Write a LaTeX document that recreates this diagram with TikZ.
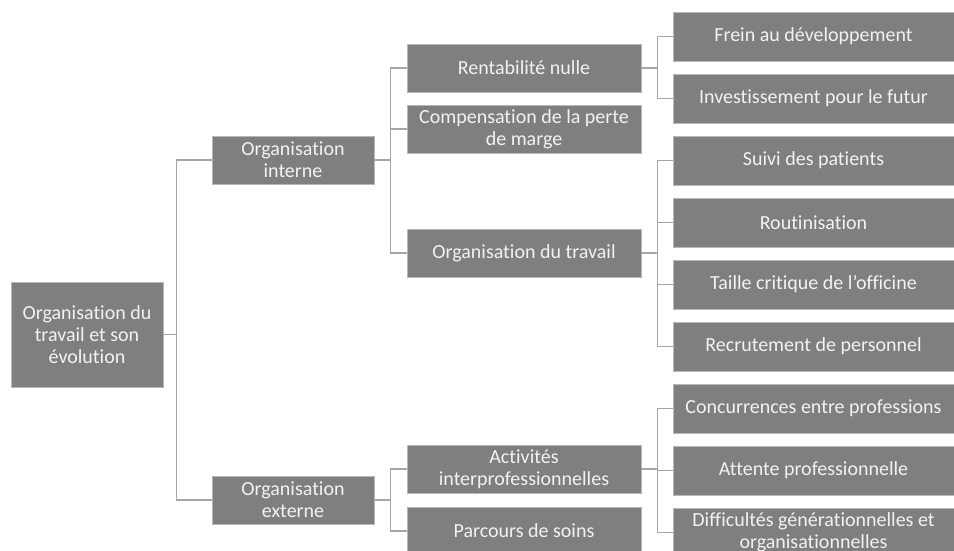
\documentclass[tikz,border=0pt]{standalone}
\usepackage{fontspec}
\setmainfont[Ligatures={NoCommon}]{Carlito}
\definecolor{boxfill}{HTML}{7F7F7F}
\definecolor{boxtext}{HTML}{F2F2F2}
\definecolor{boxedge}{HTML}{B8B8B8}
\definecolor{linkcol}{HTML}{A6A6A6}
\begin{document}
\begin{tikzpicture}[x=1pt,y=-1pt,
  box/.style={rectangle, fill=boxfill, draw=boxedge, line width=0.6pt, text=boxtext,
    inner sep=0pt, align=center, font=\fontsize{20}{22}\selectfont},
  rootbox/.style={box, minimum width=152pt, minimum height=105pt},
  lvlone/.style={box, minimum width=162pt, minimum height=48pt},
  lvltwo/.style={box, minimum width=234pt, minimum height=48pt},
  lvlthree/.style={box, minimum width=281pt, minimum height=49pt},
  link/.style={draw=linkcol, line width=1.1pt}]
\useasboundingbox (0,0) rectangle (954,550);
\begin{scope}
\clip (0,0) rectangle (954,550);
\node[rootbox] (root) at (87,334.5) {Organisation du\\travail et son\\évolution};
\node[lvlone] (oi) at (293,160) {Organisation\\interne};
\node[lvlone] (oe) at (293,500) {Organisation\\externe};
\node[lvltwo] (rn) at (524,68) {Rentabilité nulle};
\node[lvltwo] (comp) at (524,129) {Compensation de la perte\\de marge};
\node[lvltwo] (odt) at (524,253) {Organisation du travail};
\node[lvltwo] (act) at (524,469) {Activités\\interprofessionnelles};
\node[lvltwo] (parc) at (524,531) {Parcours de soins};
\node[lvlthree] (frein) at (813.5,36.5) {Frein au développement};
\node[lvlthree] (inv) at (813.5,98.5) {Investissement pour le futur};
\node[lvlthree] (suivi) at (813.5,160.5) {Suivi des patients};
\node[lvlthree] (rout) at (813.5,222.5) {Routinisation};
\node[lvlthree] (taille) at (813.5,284.5) {Taille critique de l’officine};
\node[lvlthree] (recr) at (813.5,346.5) {Recrutement de personnel};
\node[lvlthree] (conc) at (813.5,408.5) {Concurrences entre professions};
\node[lvlthree] (att) at (813.5,470.5) {Attente professionnelle};
\node[lvlthree] (diff) at (813.5,532.5) {Difficultés générationnelles et\\organisationnelles};

\draw[link] (root.east) -- ++(13,0) coordinate (c0);
\draw[link] (c0) |- (oi.west);
\draw[link] (c0) |- (oe.west);

\draw[link] (oi.east) -- ++(16,0) coordinate (c1);
\draw[link] (c1) |- (rn.west);
\draw[link] (c1) |- (comp.west);
\draw[link] (c1) |- (odt.west);

\draw[link] (oe.east) -- ++(16,0) coordinate (c2);
\draw[link] (c2) |- (act.west);
\draw[link] (c2) |- (parc.west);

\draw[link] (rn.east) -- ++(16,0) coordinate (c3);
\draw[link] (c3) |- (frein.west);
\draw[link] (c3) |- (inv.west);

\draw[link] (odt.east) -- ++(16,0) coordinate (c4);
\draw[link] (c4) |- (suivi.west);
\draw[link] (c4) |- (rout.west);
\draw[link] (c4) |- (taille.west);
\draw[link] (c4) |- (recr.west);

\draw[link] (act.east) -- ++(16,0) coordinate (c5);
\draw[link] (c5) |- (conc.west);
\draw[link] (c5) |- (att.west);
\draw[link] (c5) |- (diff.west);
\end{scope}
\end{tikzpicture}
\end{document}
